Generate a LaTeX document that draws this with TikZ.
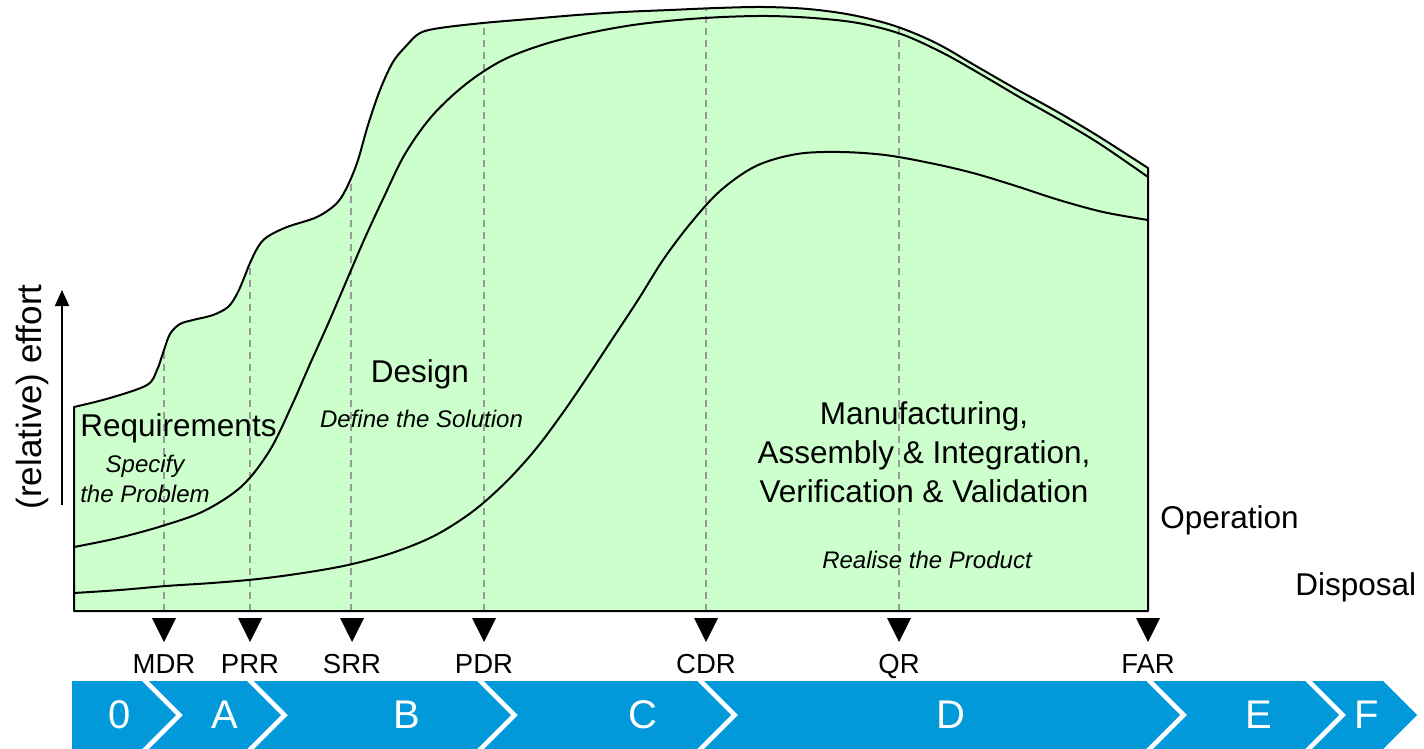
\documentclass[tikz,border=0pt]{standalone}
\usepackage{fontspec}
\setmainfont{Liberation Sans}
\usetikzlibrary{arrows.meta}
\definecolor{effortgreen}{HTML}{CCFFCC}
\definecolor{phaseblue}{RGB}{2,153,219}
\definecolor{guidegrey}{HTML}{999999}
\begin{document}
\begin{tikzpicture}[x=0.5pt,y=-0.5pt,
  curve/.style={line width=1pt, line join=round},
  guide/.style={guidegrey, line width=0.8pt, dash pattern=on 3.5pt off 2.5pt},
  phaselabel/.style={font=\fontsize{15.75pt}{19.5pt}\selectfont, align=center, inner sep=0pt},
  activity/.style={font=\fontsize{12pt}{15pt}\selectfont\itshape, align=center, inner sep=0pt},
  milestone/.style={font=\fontsize{13.75pt}{16pt}\selectfont, anchor=base, inner sep=0pt},
  phaseletter/.style={font=\fontsize{20pt}{24pt}\selectfont, text=white, inner sep=0pt},
]
\useasboundingbox (0,0) rectangle (1424,749);

% effort envelope
\path[save path=\effortpath] (74,611) -- (74,407) -- plot[smooth,tension=0.55] coordinates {
 (74,407) (110,398) (147,385) (157,370) (163,353) (170,334) (180,324) (193,320)
 (213,315) (228,307) (237,294) (244,278) (250,263) (258,247) (267,237) (287,227)
 (317,217) (337,203) (348,185) (358,160) (368,125) (380,90) (393,62) (407,45)
 (420,33) (440,28) (483,23) (530,19) (577,15) (623,12) (670,10) (717,8) (763,7)
 (808,9) (852,15) (895,26) (936,43) (976,66) (1016,89) (1056,111) (1098,136)
 (1148,168)} -- (1148,611) -- cycle;
\fill[effortgreen, use path=\effortpath];

% milestone guides
\begin{scope}
\clip[use path=\effortpath];
\foreach \n/\gx in {MDR/164, PRR/250, SRR/351, PDR/484, CDR/706, QR/899} {
  \coordinate (guide-\n) at (\gx,611);
  \draw[guide] (guide-\n) -- ++(0,-611);
}
\end{scope}

% design curve
\draw[curve] plot[smooth,tension=0.55] coordinates {
 (74,547) (118,538) (162,526) (204,511) (242,486) (270,450) (292,405) (310,364)
 (328,324) (346,282) (364,240) (383,199) (405,154) (432,116) (466,84) (503,60)
 (545,44) (589,33) (633,25) (678,20) (723,17) (768,16) (813,18) (858,23)
 (901,34) (943,53) (982,75) (1021,98) (1060,120) (1100,144) (1148,177)};
% manufacturing curve
\draw[curve] plot[smooth,tension=0.55] coordinates {
 (74,593) (120,590) (166,586) (212,583) (258,579) (303,573) (348,565) (392,553)
 (434,536) (472,512) (505,483) (535,450) (562,414) (588,376) (613,338) (638,300)
 (663,260) (690,224) (720,191) (756,166) (797,154) (840,152) (885,155) (930,163)
 (973,173) (1016,186) (1059,200) (1103,212) (1148,220)};
\draw[curve, use path=\effortpath];

% labels in the area
\node[phaselabel, anchor=base] (req) at (178.5,436) {Requirements};
\node[activity] (reqact) at (145,479) {Specify\\the Problem};
\node[phaselabel, anchor=base] (des) at (420,382) {Design};
\node[activity, anchor=base] (desact) at (421.5,427) {Define the Solution};
\node[phaselabel] (man) at (924,452) {Manufacturing,\\Assembly \& Integration,\\Verification \& Validation};
\node[activity, anchor=base] (manact) at (927,568) {Realise the Product};
\node[phaselabel, anchor=base west] (ops) at (1160,528) {Operation};
\node[phaselabel, anchor=base west] (disp) at (1295,595) {Disposal};

% axis
\coordinate (axisfoot) at (62,505);
\coordinate (axishead) at (62,290);
\draw[line width=1pt, -{Triangle[width=7pt,length=8pt]}] (axisfoot) -- (axishead);
\node[rotate=90, font=\fontsize{17.5pt}{20pt}\selectfont, inner sep=0pt] (effortlabel) at (32,397) {(relative) effort};

% milestones
\foreach \n/\mx in {MDR/164, PRR/250, SRR/352, PDR/484, CDR/706, QR/899, FAR/1148} {
  \fill (\mx-12,618) -- (\mx+12,618) -- (\mx,642) -- cycle;
  \node[milestone] (\n) at (\mx,673) {\n};
}

% phase bar
\fill[phaseblue] (72,681) -- (142,681) -- (176,715) -- (142,749) -- (72,749) -- cycle;
\foreach \l/\r in {149/247, 254/477, 484/697, 704/1146, 1153/1305, 1312/1383}
  \fill[phaseblue] (\l,681) -- (\r,681) -- (\r+34,715) -- (\r,749) -- (\l,749) -- (\l+34,715) -- cycle;
\node[phaseletter] (ph0) at (120,715) {0};
\node[phaseletter] (phA) at (225,715) {A};
\node[phaseletter] (phB) at (407,715) {B};
\node[phaseletter] (phC) at (643,715) {C};
\node[phaseletter] (phD) at (951,715) {D};
\node[phaseletter] (phE) at (1259,715) {E};
\node[phaseletter] (phF) at (1367,715) {F};
\end{tikzpicture}
\end{document}
